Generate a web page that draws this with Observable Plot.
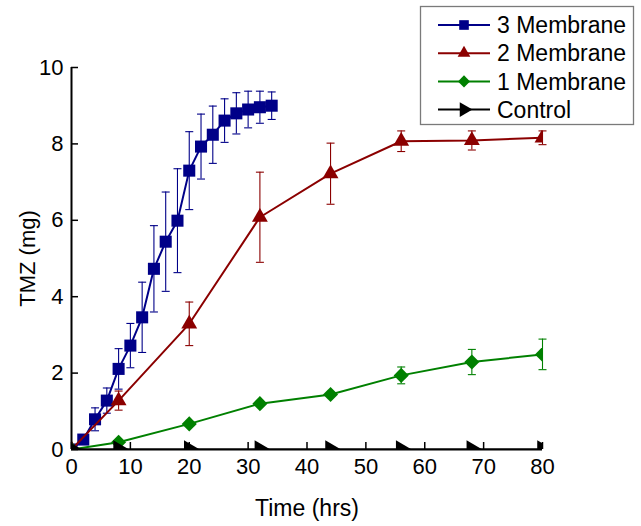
<!DOCTYPE html>
<html><head><meta charset="utf-8">
<script src="https://cdn.jsdelivr.net/npm/d3@7"></script>
<script src="https://cdn.jsdelivr.net/npm/@observablehq/plot@0.6"></script>
<style>
body{margin:0;background:#fff;}
#wrap{position:relative;width:641px;height:526px;font-family:"Liberation Sans",Arial,sans-serif;}
#wrap svg.legend{position:absolute;left:0;top:0;pointer-events:none;}
</style></head><body><div id="wrap"></div>
<script>
// ---- data ----
const seriesNames = ["3 Membrane", "2 Membrane", "1 Membrane", "Control"];
const seriesColors = ["#000088", "#8b0000", "#008000", "#000000"];
const seriesSymbols = ["square", "triangle", "diamond2", "right"];

const hours3 = [0, 2, 4, 6, 8, 10, 12, 14, 16, 18, 20, 22, 24, 26, 28, 30, 32, 34];
const mem3   = [0, 0.26, 0.79, 1.28, 2.11, 2.72, 3.46, 4.73, 5.44, 5.99, 7.30, 7.93, 8.24, 8.61, 8.80, 8.90, 8.96, 9.00];
const err3   = [0, 0, 0.30, 0.33, 0.53, 0.58, 0.92, 1.13, 1.30, 1.36, 1.02, 0.85, 0.75, 0.57, 0.54, 0.48, 0.42, 0.36];

const hoursOther = [0, 8, 20, 32, 44, 56, 68, 80];
const mem2   = [0, 1.28, 3.29, 6.08, 7.22, 8.07, 8.09, 8.16];
const err2   = [0, 0.25, 0.57, 1.18, 0.80, 0.27, 0.25, 0.18];
const mem1   = [0, 0.19, 0.67, 1.20, 1.44, 1.94, 2.29, 2.49];
const err1   = [0, 0, 0, 0, 0, 0.22, 0.33, 0.40];
const control = [0, 0, 0, 0, 0, 0, 0, 0];
const errC   = [0, 0, 0, 0, 0, 0, 0, 0];

const xTicks = [0, 10, 20, 30, 40, 50, 60, 70, 80];
const yTicks = [0, 2, 4, 6, 8, 10];

// ---- build table ----
const seriesData = [
  {hours: hours3, values: mem3, errs: err3},
  {hours: hoursOther, values: mem2, errs: err2},
  {hours: hoursOther, values: mem1, errs: err1},
  {hours: hoursOther, values: control, errs: errC}
];
const rows = [];
seriesData.forEach((s, i) => s.hours.forEach((h, j) =>
  rows.push({series: seriesNames[i], hour: h, value: s.values[j], err: s.errs[j]})));

// custom symbols
const rightTriangle = {
  draw(context, size) {
    const a = Math.sqrt(size / Math.PI) * 2.69;
    const h = a * Math.sqrt(3) / 2;
    context.moveTo(2 * h / 3, 0);
    context.lineTo(-h / 3, -a / 2);
    context.lineTo(-h / 3, a / 2);
    context.closePath();
  }
};
const capSymbol = {
  draw(context) { context.moveTo(-4, 0); context.lineTo(4, 0); }
};
const symFor = s => s === "right" ? rightTriangle : s;
const radius = {square: 6.8, triangle: 5.9, diamond2: 6.8, right: 6.8};

const marks = [];
seriesNames.forEach((name, i) => {
  const d = rows.filter(r => r.series === name);
  const color = seriesColors[i];
  const e = d.filter(r => r.err > 0);
  marks.push(Plot.ruleX(e, {x: "hour", y1: r => r.value - r.err, y2: r => r.value + r.err, stroke: color, strokeWidth: 1.1}));
  marks.push(Plot.dot(e, {x: "hour", y: r => r.value - r.err, symbol: capSymbol, stroke: color, strokeWidth: 1.1, fill: "none"}));
  marks.push(Plot.dot(e, {x: "hour", y: r => r.value + r.err, symbol: capSymbol, stroke: color, strokeWidth: 1.1, fill: "none"}));
  marks.push(Plot.line(d, {x: "hour", y: "value", stroke: color, strokeWidth: 2, clip: true}));
  marks.push(Plot.dot(d, {x: "hour", y: "value", symbol: symFor(seriesSymbols[i]), r: radius[seriesSymbols[i]], fill: color, stroke: "none", clip: true}));
});

const chart = Plot.plot({
  width: 641, height: 526,
  marginLeft: 71, marginRight: 99, marginTop: 67, marginBottom: 77,
  style: {fontFamily: "'Liberation Sans', Arial, sans-serif", fontSize: "22px", color: "#000", background: "#fff"},
  x: {domain: [0, 80]},
  y: {domain: [0, 10]},
  marks: [
    Plot.axisX({ticks: xTicks, tickSize: -7, tickPadding: 16, strokeWidth: 1.5, fontSize: 22, tickFormat: d => String(d), label: null}),
    Plot.axisX({ticks: [], tickSize: 0, fontSize: 23, label: "Time (hrs)", labelAnchor: "center", labelArrow: "none", labelOffset: 66}),
    Plot.axisY({ticks: yTicks, tickSize: -7, tickPadding: 15, strokeWidth: 1.5, fontSize: 22, tickFormat: d => String(d), label: null}),
    Plot.axisY({ticks: [], tickSize: 0, fontSize: 22, label: "TMZ (mg)", labelAnchor: "center", labelArrow: "none", labelOffset: 52}),
    ...marks,
    Plot.ruleY([0], {stroke: "#000", strokeWidth: 2}),
    Plot.ruleX([0], {stroke: "#000", strokeWidth: 2})
  ]
});
const wrap = document.getElementById("wrap");
wrap.appendChild(chart);

// ---- legend ----
const lg = d3.select(wrap).append("svg").attr("class", "legend").attr("width", 641).attr("height", 526);
lg.append("rect").attr("x", 420.5).attr("y", 6.5).attr("width", 213).attr("height", 118)
  .attr("fill", "#fff").attr("stroke", "#7a7a7a").attr("stroke-width", 1.3);
seriesNames.forEach((name, i) => {
  const cy = 25 + i * 28.2;
  const g = lg.append("g");
  g.append("line").attr("x1", 438).attr("x2", 490).attr("y1", cy).attr("y2", cy)
    .attr("stroke", seriesColors[i]).attr("stroke-width", 2);
  const sym = symFor(seriesSymbols[i]);
  const r = radius[seriesSymbols[i]] * 0.8;
  const symType = typeof sym === "string" ? {square: d3.symbolSquare, triangle: d3.symbolTriangle, diamond2: d3.symbolDiamond2}[sym] : sym;
  g.append("path").attr("d", d3.symbol(symType, r * r * Math.PI)())
    .attr("transform", `translate(464,${cy})`).attr("fill", seriesColors[i]);
  g.append("text").attr("x", 497).attr("y", cy).attr("dy", "0.36em")
    .attr("font-family", "'Liberation Sans', Arial, sans-serif").attr("font-size", 23).attr("fill", "#000").text(name);
});
</script>
</body></html>
